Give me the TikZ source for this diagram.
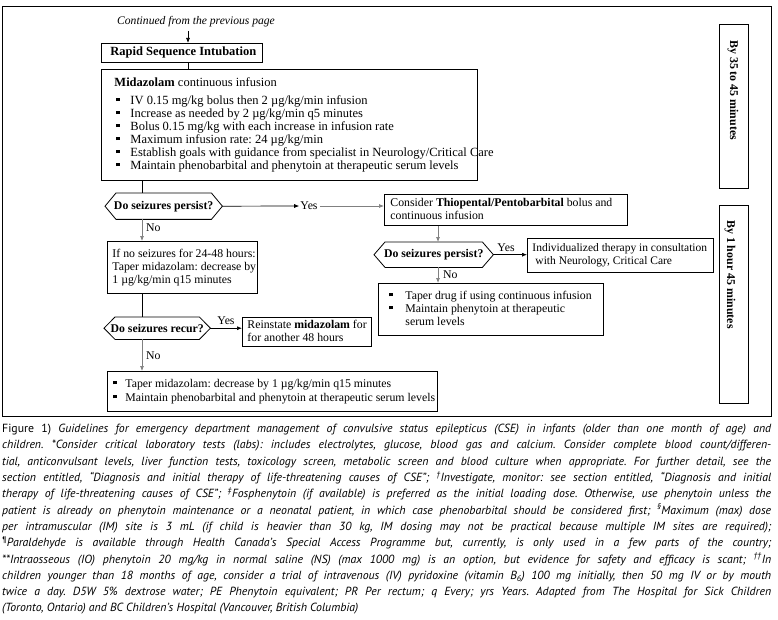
\documentclass[tikz,border=0pt]{standalone}
\usepackage{fontspec}
\usepackage{graphicx}
\setmainfont{Liberation Serif}
\newfontfamily\captfont{PT Sans}
\usetikzlibrary{arrows.meta,calc}
\frenchspacing
\newcommand\blt[2]{\hspace*{#1}\makebox[#2][l]{\rule[2.8pt]{3.3pt}{3.3pt}}}
\newcommand\bxt[2]{\makebox[#1][l]{\begin{tabular}{@{}l@{}}#2\end{tabular}}}
\newsavebox\clbox
\newcommand\cl[1]{\sbox\clbox{#1}\ifdim\wd\clbox>769pt\resizebox{769pt}{\height}{\usebox\clbox}\else\makebox[769pt][s]{#1}\fi}
\begin{document}
\begin{tikzpicture}[x=1pt,y=-1pt,
 bx/.style={draw, line width=0.9pt, anchor=north west, inner sep=0pt, font=\fontsize{11.8}{13}\selectfont},
 big/.style={font=\fontsize{12.5}{13}\selectfont},
 dec/.style={anchor=north west, inner sep=0pt, font=\fontsize{11.8}{13}\selectfont\bfseries},
 hexline/.style={line width=0.8pt},
 con/.style={line width=0.7pt},
 arr/.style={con, -{Latex[length=5pt,width=4pt]}},
 gcon/.style={draw=black!50},
 lab/.style={font=\fontsize{11.8}{13}\selectfont, inner sep=0pt},
 side/.style={draw, line width=0.9pt, anchor=north west, inner sep=0pt},
 sidetxt/.style={rotate=-90, anchor=west, inner sep=0pt, font=\fontsize{11.9}{13}\selectfont\bfseries}
]
\fill[white] (0,0) rectangle (778,620);
\useasboundingbox (0,0) rectangle (778,620);

% outer frame
\node[draw, line width=1pt, anchor=north west, inner sep=0pt, minimum width=769pt, minimum height=410pt] (frame) at (2,6) {};

% header
\node[font=\fontsize{11.6}{13}\selectfont\itshape, inner sep=0pt] (cont) at (196,22) {Continued from the previous page};

% boxes
\node[bx, big, minimum width=161pt, minimum height=19pt] (rsi) at (101,43)
 {\bxt{161pt}{\hspace*{9pt}\textbf{Rapid Sequence Intubation}}};

\node[bx, big, minimum width=376pt, minimum height=111pt] (mid) at (101,69)
 {\bxt{376pt}{\hspace*{13pt}\textbf{Midazolam} continuous infusion\\[5pt]
  \blt{15pt}{14pt}IV 0.15 mg/kg bolus then 2 µg/kg/min infusion\\
  \blt{15pt}{14pt}Increase as needed by 2 µg/kg/min q5 minutes\\
  \blt{15pt}{14pt}Bolus 0.15 mg/kg with each increase in infusion rate\\
  \blt{15pt}{14pt}Maximum infusion rate: 24 µg/kg/min\\
  \blt{15pt}{14pt}Establish goals with guidance from specialist in Neurology/Critical Care\\
  \blt{15pt}{14pt}Maintain phenobarbital and phenytoin at therapeutic serum levels}};

\node[bx, minimum width=243pt, minimum height=31pt] (thio) at (384,194)
 {\bxt{243pt}{\hspace*{6pt}Consider \textbf{Thiopental/Pentobarbital} bolus and\\
  \hspace*{6pt}continuous infusion}};

\node[bx, minimum width=186pt, minimum height=34pt, font=\fontsize{11.5}{13}\selectfont] (indiv) at (527,238)
 {\bxt{186pt}{\hspace*{5pt}Individualized therapy in consultation\\
  \hspace*{8pt}with Neurology, Critical Care}};

\node[bx, minimum width=225pt, minimum height=52pt] (taper) at (378,283)
 {\bxt{225pt}{\blt{11pt}{16pt}Taper drug if using continuous infusion\\
  \blt{11pt}{16pt}Maintain phenytoin at therapeutic\\
  \hspace*{27pt}serum levels}};

\node[bx, minimum width=150pt, minimum height=52pt] (noseiz) at (107,241)
 {\bxt{150pt}{\hspace*{5pt}If no seizures for 24-48 hours:\\
  \hspace*{5pt}Taper midazolam: decrease by\\
  \hspace*{5pt}1 µg/kg/min q15 minutes}};

\node[bx, minimum width=129pt, minimum height=29pt] (reinst) at (242,317)
 {\bxt{129pt}{\hspace*{5pt}Reinstate \textbf{midazolam} for\\
  \hspace*{5pt}for another 48 hours}};

\node[bx, minimum width=330pt, minimum height=40pt] (final) at (107,371)
 {\bxt{330pt}{\blt{6pt}{12pt}Taper midazolam: decrease by 1 µg/kg/min q15 minutes\\[1pt]
  \blt{6pt}{12pt}Maintain phenobarbital and phenytoin at therapeutic serum levels}};

% decisions
\node[dec, minimum width=117pt, minimum height=26pt] (q1) at (105,193) {Do seizures persist?};
\node[dec, minimum width=119pt, minimum height=25pt] (q2) at (374,242) {Do seizures persist?};
\node[dec, minimum width=106pt, minimum height=22pt] (q3) at (104,317) {Do seizures recur?};
\foreach \n in {q1,q2,q3}
  \draw[hexline] (\n.west) -- ([xshift=11pt]\n.north west) -- ([xshift=-11pt]\n.north east)
    -- (\n.east) -- ([xshift=-11pt]\n.south east) -- ([xshift=11pt]\n.south west) -- cycle;

% side boxes
\node[side, minimum width=29pt, minimum height=164pt] (rb1) at (719,24) {};
\node[side, minimum width=29pt, minimum height=198pt] (rb2) at (719,205) {};
\node[sidetxt] (t1) at ($(rb1.north)+(-1,16)$) {By 35 to 45 minutes};
\node[sidetxt] (t2) at ($(rb2.north)+(-4,15)$) {By 1 hour 45 minutes};

% connectors
\coordinate (c0) at (188,31);
\draw[arr] (c0) -- (c0 |- rsi.north);
\draw[con] (rsi.south -| c0) -- (mid.north -| c0);

\coordinate (cx) at (142,0);
\draw[con] (mid.south -| cx) -- (q1.north -| cx);
\draw[arr, gcon] (q1.south -| cx) -- (noseiz.north -| cx);
\node[lab, anchor=west] (no1) at (146,228) {No};
\draw[con] (noseiz.south -| cx) -- (q3.north -| cx);
\draw[arr, gcon] (q3.south -| cx) -- (final.north -| cx);
\node[lab, anchor=west] (no3) at (146,356) {No};

\node[lab] (yes1) at (309,206) {Yes};
\draw[arr] (q1.east) -- ([xshift=-1pt]yes1.west);
\draw[arr, gcon] ([xshift=2pt]yes1.east) -- (yes1.east -| thio.west);

\coordinate (cx2) at (438,0);
\draw[arr, gcon] (thio.south -| cx2) -- (q2.north -| cx2);
\draw[arr] (q2.east) -- (q2.east -| indiv.west);
\node[lab] (yes2) at (506,248) {Yes};
\draw[arr, gcon] (q2.south -| cx2) -- (taper.north -| cx2);
\node[lab, anchor=west] (no2) at (443,275) {No};

\draw[arr] (q3.east) -- (q3.east -| reinst.west);
\node[lab] (yes3) at (226,321) {Yes};

% caption
\node[anchor=north west, inner sep=0pt, align=left, font=\captfont\itshape\fontsize{11.8}{16.3}\selectfont] (capt) at (2,424)
{\cl{\textup{Figure 1)} Guidelines for emergency department management of convulsive status epilepticus (CSE) in infants (older than one month of age) and}\\
\cl{children. *Consider critical laboratory tests (labs): includes electrolytes, glucose, blood gas and calcium. Consider complete blood count/differen-}\\
\cl{tial, anticonvulsant levels, liver function tests, toxicology screen, metabolic screen and blood culture when appropriate. For further detail, see the}\\
\cl{section entitled, “Diagnosis and initial therapy of life-threatening causes of CSE”; \textsuperscript{†}Investigate, monitor: see section entitled, “Diagnosis and initial}\\
\cl{therapy of life-threatening causes of CSE”; \textsuperscript{‡}Fosphenytoin (if available) is preferred as the initial loading dose. Otherwise, use phenytoin unless the}\\
\cl{patient is already on phenytoin maintenance or a neonatal patient, in which case phenobarbital should be considered first; \textsuperscript{§}Maximum (max) dose}\\
\cl{per intramuscular (IM) site is 3 mL (if child is heavier than 30 kg, IM dosing may not be practical because multiple IM sites are required);}\\
\cl{\textsuperscript{¶}Paraldehyde is available through Health Canada’s Special Access Programme but, currently, is only used in a few parts of the country;}\\
\cl{**Intraosseous (IO) phenytoin 20 mg/kg in normal saline (NS) (max 1000 mg) is an option, but evidence for safety and efficacy is scant; \textsuperscript{††}In}\\
\cl{children younger than 18 months of age, consider a trial of intravenous (IV) pyridoxine (vitamin B\textsubscript{6}) 100 mg initially, then 50 mg IV or by mouth}\\
\cl{twice a day. D5W 5\% dextrose water; PE Phenytoin equivalent; PR Per rectum; q Every; yrs Years. Adapted from The Hospital for Sick Children}\\
(Toronto, Ontario) and BC Children’s Hospital (Vancouver, British Columbia)};
\end{tikzpicture}
\end{document}
